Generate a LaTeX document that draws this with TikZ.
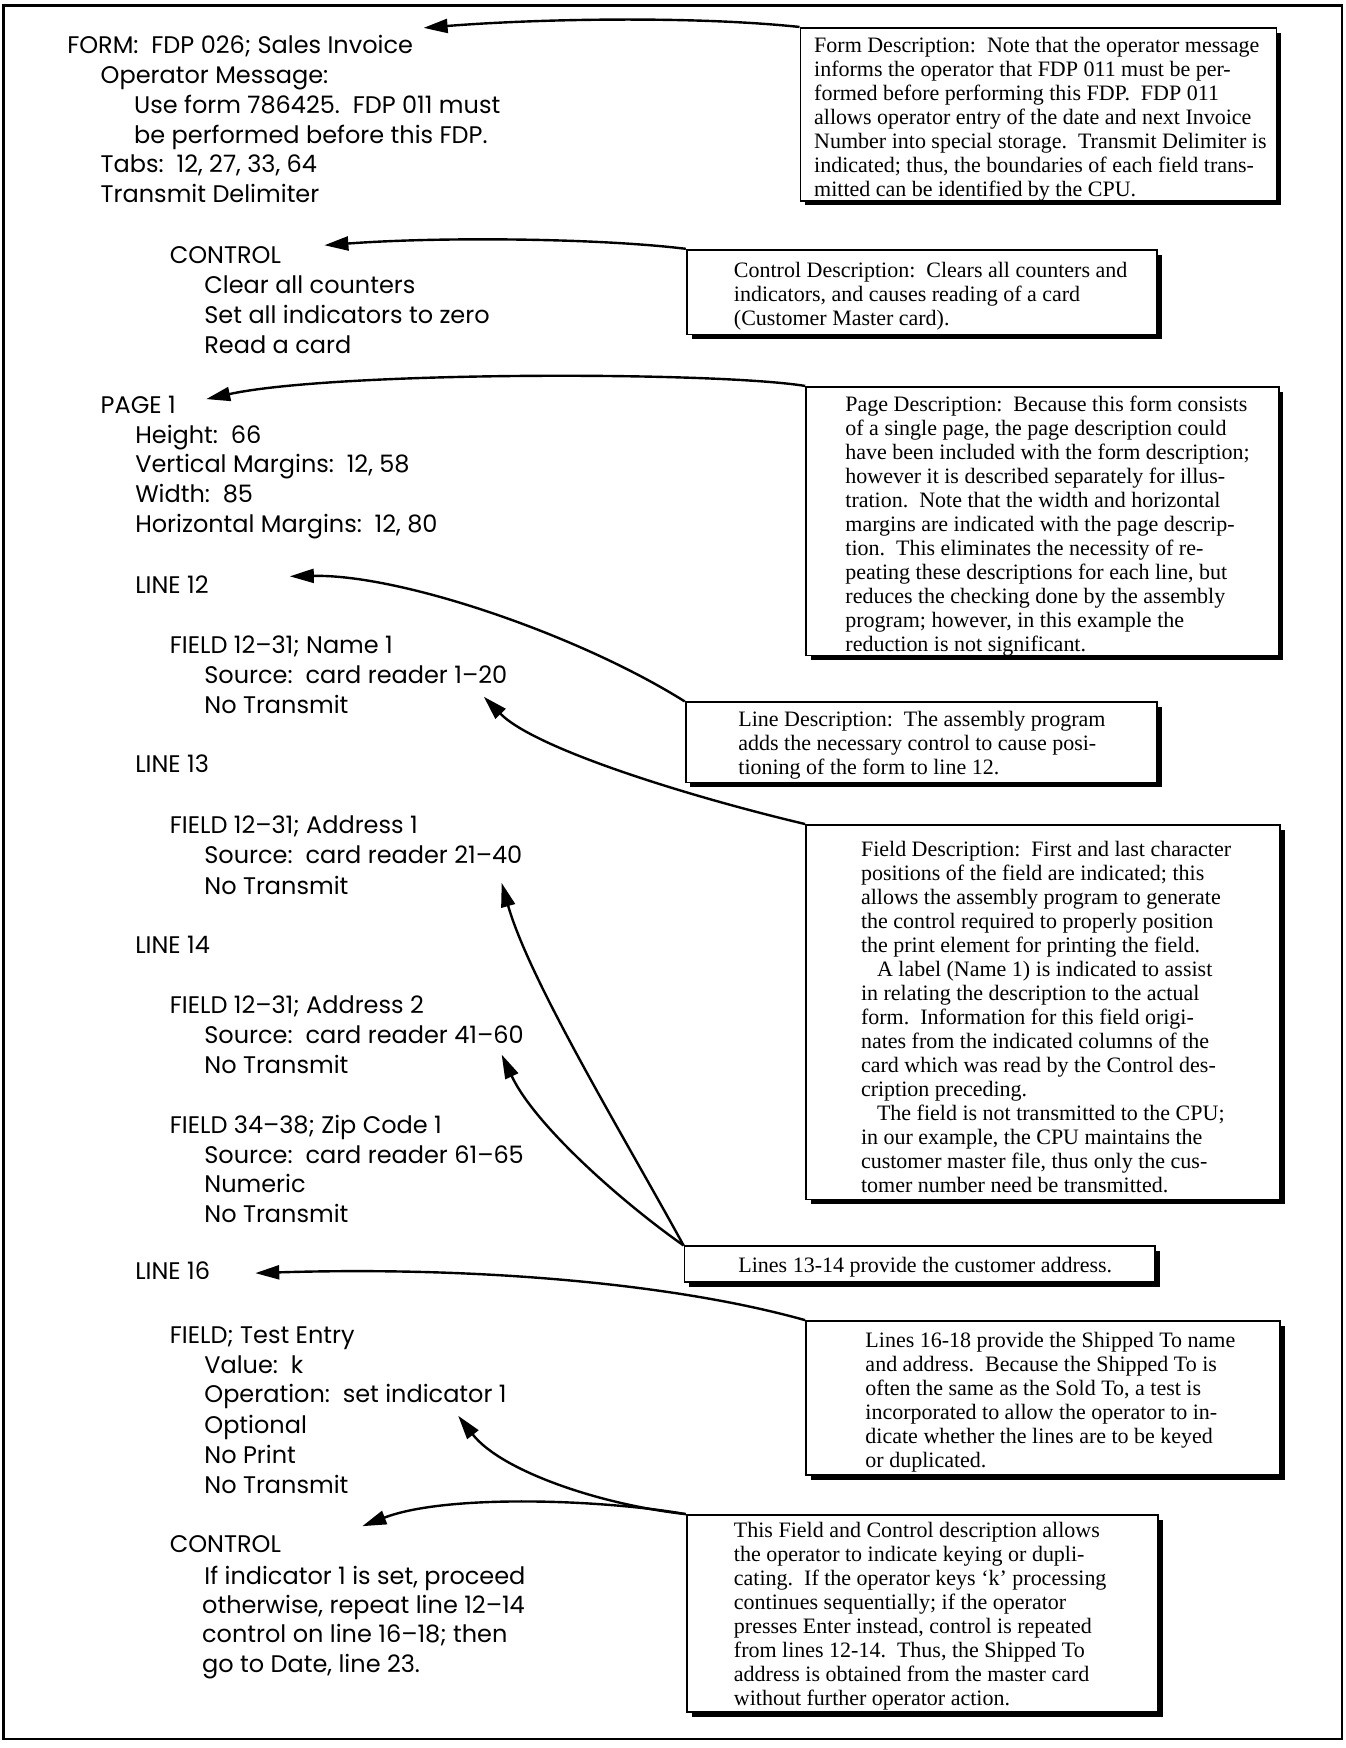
\documentclass[tikz,border=0pt]{standalone}
\usepackage{fontspec}
\setmainfont{Liberation Serif}
\newfontfamily\lfont{Poppins}
\usetikzlibrary{arrows.meta,shadows,fit}
\tikzset{
  lt/.style={anchor=base west, inner sep=0pt, font={\lfont\fontsize{12}{15}\selectfont}},
  descbox/.style={draw=black, line width=0.9pt, fill=white, inner sep=0pt,
    drop shadow={shadow xshift=2.4pt, shadow yshift=-2.4pt, fill=black, opacity=1}},
  boxtext/.style={anchor=north west, inner sep=0pt, align=left,
    font={\fontsize{11}{12}\selectfont}},
  conn/.style={line width=1.2pt, -{Triangle[length=12pt,width=7pt]}},
  frame/.style={line width=1.2pt}
}
\begin{document}
\begin{tikzpicture}[x=0.5576pt,y=-0.5576pt]
\useasboundingbox (0,0) rectangle (1207,1568);
\fill[white] (0,0) rectangle (1207,1568);
\draw[frame] (3,5) rectangle (1204,1560);

% ---------- left listing ----------
\node[lt] (f1) at (60,48) {FORM:\ \ FDP 026; Sales Invoice};
\node[lt] (f2) at (90,75) {Operator Message:};
\node[lt] (f3) at (120,102) {Use form 786425.\ \ FDP 011 must};
\node[lt] (f4) at (120,129) {be performed before this FDP.};
\node[lt] (f5) at (90,155) {Tabs:\ \ 12, 27, 33, 64};
\node[lt] (f6) at (90,182) {Transmit Delimiter};

\node[lt] (c1) at (152,236) {CONTROL};
\node[lt] (c2) at (183,263) {Clear all counters};
\node[lt] (c3) at (183,290) {Set all indicators to zero};
\node[lt] (c4) at (183,317) {Read a card};

\node[lt] (p1) at (90,371) {PAGE 1};
\node[lt] (p2) at (121,398) {Height:\ \ 66};
\node[lt] (p3) at (121,424) {Vertical Margins:\ \ 12, 58};
\node[lt] (p4) at (121,451) {Width:\ \ 85};
\node[lt] (p5) at (121,478) {Horizontal Margins:\ \ 12, 80};

\node[lt] (ln12) at (121,532) {LINE 12};
\node[lt] (fa1) at (152,586) {FIELD 12–31; Name 1};
\node[lt] (fa2) at (183,613) {Source:\ \ card reader 1–20};
\node[lt] (fa3) at (183,640) {No Transmit};
\node[lt] (ln13) at (121,693) {LINE 13};
\node[lt] (fb1) at (152,748) {FIELD 12–31; Address 1};
\node[lt] (fb2) at (183,775) {Source:\ \ card reader 21–40};
\node[lt] (fb3) at (183,802) {No Transmit};
\node[lt] (ln14) at (121,855) {LINE 14};
\node[lt] (fc1) at (152,909) {FIELD 12–31; Address 2};
\node[lt] (fc2) at (183,936) {Source:\ \ card reader 41–60};
\node[lt] (fc3) at (183,963) {No Transmit};
\node[lt] (fd1) at (152,1017) {FIELD 34–38; Zip Code 1};
\node[lt] (fd2) at (183,1044) {Source:\ \ card reader 61–65};
\node[lt] (fd3) at (183,1070) {Numeric};
\node[lt] (fd4) at (183,1097) {No Transmit};
\node[lt] (ln16) at (121,1148) {LINE 16};
\node[lt] (fe1) at (152,1205) {FIELD; Test Entry};
\node[lt] (fe2) at (183,1232) {Value:\ \ k};
\node[lt] (fe3) at (183,1258) {Operation:\ \ set indicator 1};
\node[lt] (fe4) at (183,1286) {Optional};
\node[lt] (fe5) at (183,1313) {No Print};
\node[lt] (fe6) at (183,1340) {No Transmit};
\node[lt] (ct1) at (152,1393) {CONTROL};
\node[lt] (ct2) at (183,1421) {If indicator 1 is set, proceed};
\node[lt] (ct3) at (181,1447) {otherwise, repeat line 12–14};
\node[lt] (ct4) at (181,1473) {control on line 16–18; then};
\node[lt] (ct5) at (181,1500) {go to Date, line 23.};

% ---------- description boxes ----------
\node[descbox, fit={(718,25) (1145,180)}] (b1) {};
\node[boxtext] (b1t) at (730,33) {Form Description:\ \ Note that the operator message\\
informs the operator that FDP 011 must be per-\\
formed before performing this FDP.\ \ FDP 011\\
allows operator entry of the date and next Invoice\\
Number into special storage.\ \ Transmit Delimiter is\\
indicated; thus, the boundaries of each field trans-\\
mitted can be identified by the CPU.};

\node[descbox, fit={(616,224) (1038,300)}] (b2) {};
\node[boxtext] (b2t) at (658,235) {Control Description:\ \ Clears all counters and\\
indicators, and causes reading of a card\\
(Customer Master card).};

\node[descbox, fit={(723,347) (1147,588)}] (b3) {};
\node[boxtext] (b3t) at (758,355) {Page Description:\ \ Because this form consists\\
of a single page, the page description could\\
have been included with the form description;\\
however it is described separately for illus-\\
tration.\ \ Note that the width and horizontal\\
margins are indicated with the page descrip-\\
tion.\ \ This eliminates the necessity of re-\\
peating these descriptions for each line, but\\
reduces the checking done by the assembly\\
program; however, in this example the\\
reduction is not significant.};

\node[descbox, fit={(615,630) (1038,702)}] (b4) {};
\node[boxtext] (b4t) at (662,638) {Line Description:\ \ The assembly program\\
adds the necessary control to cause posi-\\
tioning of the form to line 12.};

\node[descbox, fit={(723,740) (1148,1076)}] (b5) {};
\node[boxtext] (b5t) at (772,754) {Field Description:\ \ First and last character\\
positions of the field are indicated; this\\
allows the assembly program to generate\\
the control required to properly position\\
the print element for printing the field.\\
\hspace*{8pt}A label (Name 1) is indicated to assist\\
in relating the description to the actual\\
form.\ \ Information for this field origi-\\
nates from the indicated columns of the\\
card which was read by the Control des-\\
cription preceding.\\
\hspace*{8pt}The field is not transmitted to the CPU;\\
in our example, the CPU maintains the\\
customer master file, thus only the cus-\\
tomer number need be transmitted.};

\node[descbox, fit={(614,1118) (1036,1150)}] (b6) {};
\node[boxtext] (b6t) at (662,1127) {Lines 13-14 provide the customer address.};

\node[descbox, fit={(723,1185) (1148,1323)}] (b7) {};
\node[boxtext] (b7t) at (776,1195) {Lines 16-18 provide the Shipped To name\\
and address.\ \ Because the Shipped To is\\
often the same as the Sold To, a test is\\
incorporated to allow the operator to in-\\
dicate whether the lines are to be keyed\\
or duplicated.};

\node[descbox, fit={(616,1359) (1039,1536)}] (b8) {};
\node[boxtext] (b8t) at (658,1365) {This Field and Control description allows\\
the operator to indicate keying or dupli-\\
cating.\ \ If the operator keys ‘k’ processing\\
continues sequentially; if the operator\\
presses Enter instead, control is repeated\\
from lines 12-14.\ \ Thus, the Shipped To\\
address is obtained from the master card\\
without further operator action.};

% ---------- arrow tips ----------
\coordinate (t1) at (380,25);
\coordinate (t2) at (291,220);
\coordinate (t3) at (185,358);
\coordinate (t4) at (260,517);
\coordinate (t5) at (434,625);
\coordinate (t6) at (450,792);
\coordinate (t7) at (450,946);
\coordinate (t8) at (229,1142);
\coordinate (t9) at (411,1270);
\coordinate (t10) at (325,1369);

% ---------- connectors ----------
\draw[conn] (b1.north west) .. controls (620,14) and (480,17) .. (t1);
\draw[conn] (b2.north west) .. controls (540,214) and (400,212) .. (t2);
\draw[conn] (b3.north west) .. controls (640,333) and (300,333) .. (t3);
\draw[conn] (b4.north west) .. controls (520,570) and (360,515) .. (t4);
\draw[conn] (b5.north west) .. controls (620,715) and (480,672) .. (t5);
\draw[conn] (b6.north west) .. controls (560,1020) and (475,880) .. (t6);
\draw[conn] (b6.north west) .. controls (560,1080) and (480,1010) .. (t7);
\draw[conn] (b7.north west) .. controls (600,1150) and (420,1136) .. (t8);
\draw[conn] (b8.north west) .. controls (540,1350) and (450,1320) .. (t9);
\draw[conn] (b8.north west) .. controls (540,1345) and (400,1340) .. (t10);
\end{tikzpicture}
\end{document}
